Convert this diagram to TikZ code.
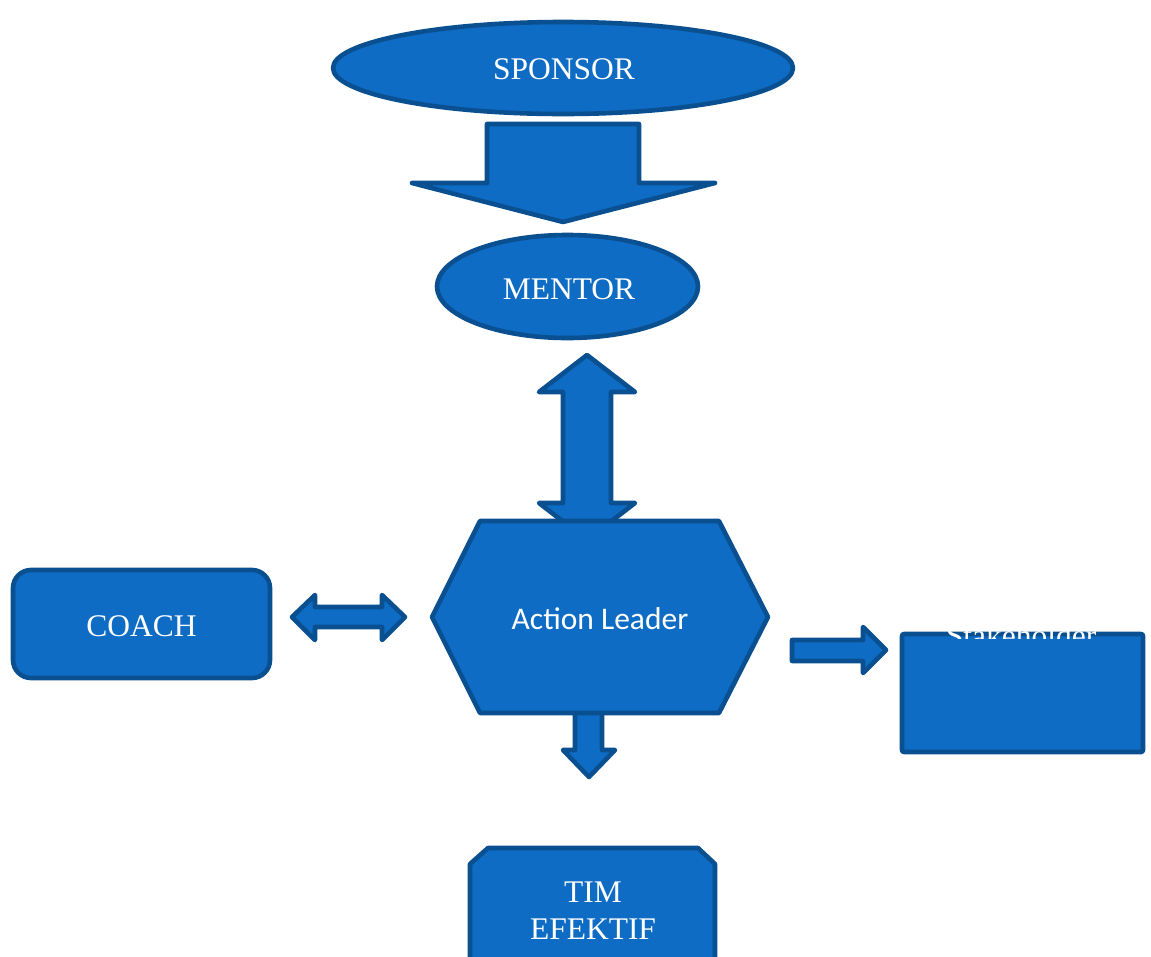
\documentclass[tikz,border=0pt]{standalone}
\usepackage{fontspec}
\setmainfont{Liberation Serif}
\newfontfamily\labelsans{Carlito}
\usetikzlibrary{shapes.geometric}
\definecolor{boxfill}{RGB}{14,108,196}
\definecolor{boxline}{RGB}{10,80,145}
\begin{document}
\begin{tikzpicture}[x=1pt,y=-1pt,
  blueshape/.style={fill=boxfill,draw=boxline,line width=4.6pt,line join=round},
  caption/.style={text=white,inner sep=0pt,anchor=base,font=\fontsize{31.5}{38}\selectfont},
  sanscaption/.style={text=white,inner sep=0pt,anchor=base,font=\labelsans\fontsize{31.5}{38}\selectfont}]
\useasboundingbox (0,0) rectangle (1151,956);
\clip (0,0) rectangle (1151,956);

% block arrows (drawn first, shapes go on top)
\draw[blueshape] (487,124) -- (639,124) -- (639,183) -- (715,183) -- (563,222)
  -- (412,183) -- (487,183) -- cycle;
\draw[blueshape] (587,355) -- (635,392) -- (611,392) -- (611,503) -- (635,503)
  -- (587,540) -- (539,503) -- (563,503) -- (563,392) -- (539,392) -- cycle;
\draw[blueshape] (292,617) -- (315,595) -- (315,607) -- (382,607) -- (382,595)
  -- (405,617) -- (382,640) -- (382,627) -- (315,627) -- (315,640) -- cycle;
\draw[blueshape] (792,640) -- (863,640) -- (863,627) -- (886,650) -- (863,673)
  -- (863,661) -- (792,661) -- cycle;
\draw[blueshape] (575,705) -- (602,705) -- (602,750) -- (615,750) -- (589,777)
  -- (563,750) -- (575,750) -- cycle;

% ellipses
\node[blueshape,ellipse,inner sep=0pt,minimum width=460pt,minimum height=92pt]
  (sponsor) at (563,68) {};
\node[caption] (sponsortext) at (564,79) {SPONSOR};
\node[blueshape,ellipse,inner sep=0pt,minimum width=261pt,minimum height=103pt]
  (mentor) at (567.5,286.5) {};
\node[caption] (mentortext) at (569,299) {MENTOR};

% hexagon
\draw[blueshape] (480,521) -- (719,521) -- (768,617) -- (719,713) -- (480,713)
  -- (432,617) -- cycle;
\node[sanscaption] (leader) at (600,629) {Action Leader};

% coach
\node[blueshape,rectangle,rounded corners=18pt,inner sep=0pt,
  minimum width=257pt,minimum height=108pt] (coach) at (141.5,624) {};
\node[caption] (coachtext) at (141.5,636) {COACH};

% stakeholder
\node[blueshape,rectangle,rounded corners=2pt,inner sep=0pt,
  minimum width=241pt,minimum height=118pt] (stake) at (1022.5,693) {};
\begin{scope}
  \clip (890,600) rectangle (1151,638);
  \node[caption] (staketext) at (1021,646) {Stakeholder};
\end{scope}

% tim efektif
\draw[blueshape] (470,990) -- (470,864) -- (488,848) -- (698,848) -- (715,864)
  -- (715,990) -- cycle;
\node[caption] (tim) at (593,902) {TIM};
\node[caption] (efektif) at (593,939) {EFEKTIF};
\end{tikzpicture}
\end{document}
